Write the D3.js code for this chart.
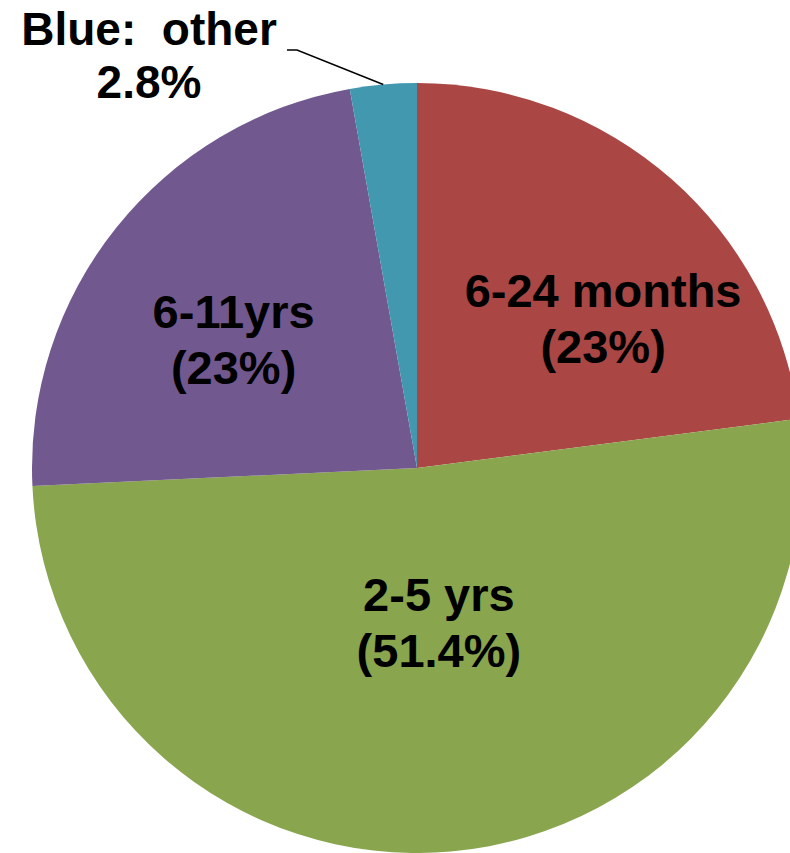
<!DOCTYPE html>
<html>
<head>
<meta charset="utf-8">
<script src="https://cdn.jsdelivr.net/npm/d3@7"></script>
<style>
  body { margin: 0; background: #fff; }
  svg text { font-family: "Liberation Sans", Arial, sans-serif; font-weight: bold; fill: #000; white-space: pre; }
</style>
</head>
<body>
<svg width="790" height="853"></svg>
<script>
const labels = ["6-24 months", "2-5 yrs", "6-11yrs", "Blue:  other"];
const shares = ["(23%)", "(51.4%)", "(23%)", "2.8%"];
const values = [23, 51.4, 23, 2.8];
const colours = ["#AA4643", "#89A54E", "#71588F", "#4198AF"];

const svg = d3.select("svg"),
    cx = 417, cy = 468, radius = 385;

const g = svg.append("g").attr("transform", "translate(" + cx + "," + cy + ")");

const pie = d3.pie().sort(null).value(function(d) { return d; });
const arc = d3.arc().innerRadius(0).outerRadius(radius);
const colour = d3.scaleOrdinal().domain(labels).range(colours);

const arcs = pie(values);

g.selectAll("path")
  .data(arcs)
  .enter().append("path")
    .attr("d", arc)
    .style("fill", function(d, i) { return colour(labels[i]); });

// Labels sit near the centroid of a half-radius arc, nudged like the original
const labelArc = d3.arc().innerRadius(radius * 0.5).outerRadius(radius * 0.5);
const nudges = [[59, 6], [5, -27], [-33, 2]];

arcs.slice(0, 3).forEach(function(d, i) {
  const c = labelArc.centroid(d);
  const t = g.append("text")
      .attr("text-anchor", "middle")
      .style("font-size", "47px")
      .attr("transform", "translate(" + (c[0] + nudges[i][0]) + "," + (c[1] + nudges[i][1]) + ")");
  t.append("tspan").attr("x", 0).attr("y", -22).text(labels[i]);
  t.append("tspan").attr("x", 0).attr("y", 34).text(shares[i]);
});

// Outside label for the small slice, with a leader line
const small = arcs[3];
const mid = (small.startAngle + small.endAngle) / 2;
const edge = [Math.sin(mid) * radius, -Math.cos(mid) * radius];
g.append("polyline")
    .attr("points", [[edge[0], edge[1]], [-120, -418], [-130, -418]].map(function(p) { return p.join(","); }).join(" "))
    .style("fill", "none")
    .style("stroke", "#000")
    .style("stroke-width", 1.5);

const out = g.append("text")
    .attr("text-anchor", "middle")
    .style("font-size", "46px");
out.append("tspan").attr("x", -268).attr("y", -423).text(labels[3]);
out.append("tspan").attr("x", -268).attr("y", -370).text(shares[3]);
</script>
</body>
</html>
